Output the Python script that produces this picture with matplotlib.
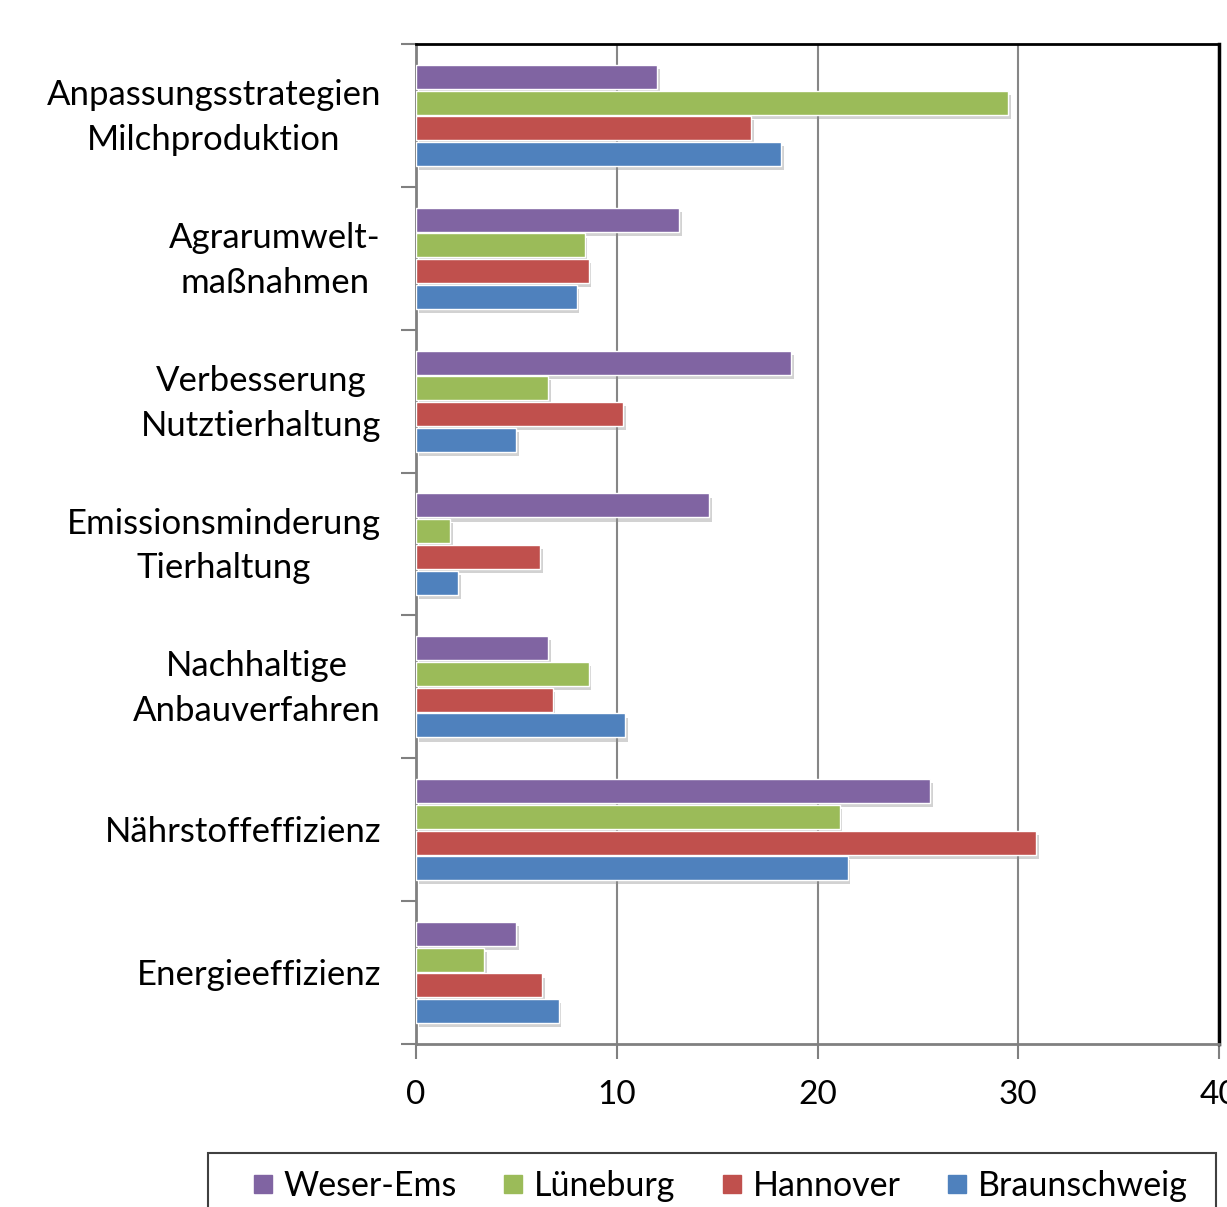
import numpy as np
import matplotlib
matplotlib.use("Agg")
import matplotlib.pyplot as plt
import matplotlib.patheffects as pe
import matplotlib.transforms as mtransforms
from matplotlib.lines import Line2D
from matplotlib.patches import Rectangle

plt.rcParams['font.family'] = ['Lato', 'DejaVu Sans']

categories = ["Anpassungsstrategien\nMilchproduktion",
              "Agrarumwelt-\nmaßnahmen",
              "Verbesserung\nNutztierhaltung",
              "Emissionsminderung\nTierhaltung",
              "Nachhaltige\nAnbauverfahren",
              "Nährstoffeffizienz",
              "Energieeffizienz"]

regions = ["Weser-Ems", "Lüneburg", "Hannover", "Braunschweig"]
colors = ["#8064A2", "#9BBB59", "#C0504D", "#4F81BD"]

weser_ems = [12.0, 13.1, 18.7, 14.6, 6.6, 25.6, 5.0]
lueneburg = [29.5, 8.4, 6.6, 1.7, 8.6, 21.1, 3.4]
hannover = [16.7, 8.6, 10.3, 6.2, 6.8, 30.9, 6.3]
braunschweig = [18.2, 8.0, 5.0, 2.1, 10.4, 21.5, 7.1]
series = [weser_ems, lueneburg, hannover, braunschweig]

fig = plt.figure(figsize=(12.27, 12.07), dpi=100)
ax = fig.add_axes([416/1227, 1 - 1044/1207, 803/1227, 1000/1207])

n = len(categories)
centers = np.arange(n)[::-1]
pitch = 0.18
offsets = [1.5, 0.5, -0.5, -1.5]

shadow = [pe.SimplePatchShadow(offset=(2, -3), shadow_rgbFace="#909090", alpha=0.4),
          pe.Normal()]
for vals, col, off in zip(series, colors, offsets):
    bars = ax.barh(centers + off * pitch, vals, height=pitch * 0.93, color=col,
                   edgecolor="white", linewidth=1.0, zorder=3)
    for b in bars:
        b.set_path_effects(shadow)

ax.set_xlim(0, 40)
ax.set_ylim(-0.5, n - 0.5)
ax.set_xticks([0, 10, 20, 30, 40])
ax.xaxis.grid(True, color="#868686", linewidth=1.5, zorder=0)
ax.set_axisbelow(True)

# tick marks sit on the category boundaries; names are placed as text
ax.set_yticks(np.arange(-0.5, n, 1.0))
ax.set_yticklabels([])
ax.tick_params(axis="y", length=11, width=1.5, color="#808080")
ax.tick_params(axis="x", length=11, width=1.5, color="#808080", labelsize=24, pad=15)

label_trans = mtransforms.blended_transform_factory(ax.transAxes, ax.transData)
label_trans = label_trans + mtransforms.ScaledTranslation(-35 / 100, -2 / 100,
                                                          fig.dpi_scale_trans)
for yc, name in zip(centers, categories):
    ax.text(0, yc, name, transform=label_trans, ha="right", va="center",
            fontsize=25, linespacing=1.5, multialignment="center")

ax.spines["left"].set_color("#808080")
ax.spines["left"].set_linewidth(2)
ax.spines["bottom"].set_color("#808080")
ax.spines["bottom"].set_linewidth(2)
ax.spines["top"].set_color("black")
ax.spines["top"].set_linewidth(2)
ax.spines["right"].set_color("black")
ax.spines["right"].set_linewidth(2.5)

# legend box runs off the bottom edge
fig.patches.append(Rectangle((208/1227, -0.02), 1008/1227, 0.02 + 54/1207,
                             transform=fig.transFigure, fill=False,
                             edgecolor="#404040", linewidth=1.5))
handles = [Line2D([], [], linestyle="none", marker="s", markersize=13,
                  markerfacecolor=c, markeredgecolor=c) for c in colors]
fig.legend(handles, regions, loc="center left", ncol=4,
           bbox_to_anchor=(249/1227, 1 - 1186/1207),
           borderaxespad=0, borderpad=0, fontsize=24.5, frameon=False,
           handlelength=0.8, handletextpad=0.22, columnspacing=1.25)

fig.savefig("out.png", dpi=100)
